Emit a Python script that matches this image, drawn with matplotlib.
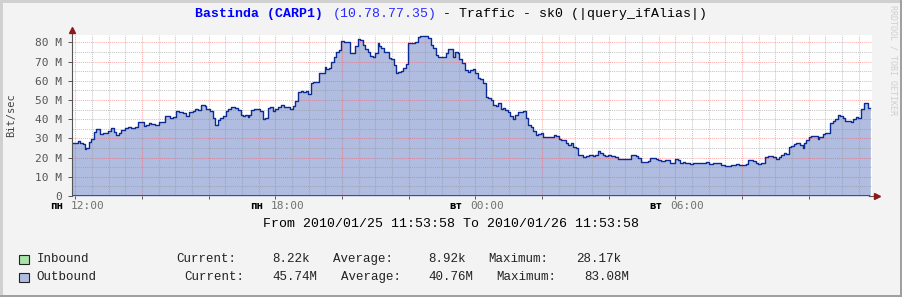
import matplotlib
matplotlib.use("Agg")
import matplotlib.pyplot as plt
import matplotlib.dates as mdates
from matplotlib.ticker import MultipleLocator, FuncFormatter
from matplotlib.patches import Rectangle
from datetime import datetime, timedelta

start = datetime(2010, 1, 25, 11, 53, 58)
end = start + timedelta(hours=24)

# outbound traffic, step starts in minutes after start, values in Mbit/s
out_minutes = [
    0, 11, 14, 19, 23, 26, 31, 35, 40, 43,
    50, 55, 65, 70, 76, 79, 85, 89, 95, 101,
    107, 113, 118, 130, 134, 139, 143, 149, 157, 167,
    176, 181, 187, 193, 200, 206, 211, 217, 221, 227,
    233, 239, 242, 248, 254, 257, 262, 266, 272, 277,
    281, 286, 293, 299, 304, 307, 311, 316, 319, 323,
    328, 332, 338, 343, 347, 352, 356, 361, 365, 371,
    376, 382, 392, 397, 401, 407, 412, 416, 421, 425,
    430, 434, 440, 445, 449, 455, 458, 463, 467, 472,
    476, 481, 485, 490, 494, 500, 504, 509, 514, 518,
    523, 527, 532, 536, 541, 545, 550, 553, 557, 562,
    566, 571, 575, 580, 583, 587, 592, 596, 601, 604,
    617, 622, 626, 641, 646, 650, 655, 659, 668, 673,
    677, 686, 690, 694, 697, 702, 707, 712, 716, 721,
    725, 730, 734, 740, 745, 749, 754, 758, 763, 767,
    772, 775, 779, 784, 788, 793, 797, 802, 812, 817,
    821, 826, 830, 835, 839, 844, 848, 853, 868, 872,
    877, 881, 889, 893, 898, 902, 907, 911, 920, 925,
    931, 937, 941, 946, 950, 955, 959, 965, 971, 977,
    983, 1006, 1010, 1015, 1019, 1025, 1036, 1040, 1051, 1055,
    1061, 1067, 1076, 1085, 1090, 1094, 1099, 1103, 1112, 1118,
    1142, 1147, 1153, 1157, 1169, 1175, 1187, 1196, 1201, 1213,
    1217, 1226, 1231, 1235, 1240, 1247, 1252, 1262, 1268, 1273,
    1277, 1282, 1286, 1291, 1295, 1300, 1304, 1310, 1315, 1318,
    1322, 1327, 1331, 1342, 1345, 1351, 1355, 1364, 1369, 1373,
    1378, 1382, 1387, 1391, 1402, 1406, 1411, 1415, 1421, 1426,
    1433,
]
out_mbit = [
    27.4, 28.8, 27.4, 27.1, 24.5, 24.8, 28.3, 29.5, 33.5, 34.7,
    32.1, 32.6, 34.0, 35.2, 33.5, 31.8, 32.6, 34.4, 35.2, 35.7,
    35.2, 36.1, 38.4, 36.4, 37.0, 37.8, 37.3, 37.0, 38.7, 41.6,
    40.4, 41.0, 44.2, 43.7, 43.0, 41.6, 43.7, 44.4, 45.5, 44.8,
    47.5, 46.9, 45.1, 44.4, 40.4, 37.0, 39.6, 40.8, 41.6, 44.2,
    45.5, 46.2, 45.8, 44.8, 42.2, 41.6, 42.2, 41.0, 42.2, 44.8,
    45.5, 45.1, 44.4, 39.9, 40.4, 45.6, 46.2, 44.2, 45.5, 46.5,
    47.4, 46.5, 45.3, 46.9, 49.5, 54.0, 54.7, 54.2, 54.9, 53.1,
    58.7, 59.2, 59.5, 63.9, 64.2, 67.3, 65.9, 66.5, 69.9, 72.5,
    75.1, 76.0, 80.9, 80.2, 80.4, 74.6, 74.3, 78.1, 81.9, 81.2,
    78.6, 76.4, 75.1, 72.9, 72.5, 74.3, 79.5, 78.1, 76.9, 75.1,
    74.8, 71.7, 71.4, 68.2, 64.2, 64.4, 65.2, 66.5, 68.5, 79.5,
    80.3, 82.9, 83.1, 82.1, 78.6, 76.9, 73.4, 72.2, 72.5, 74.3,
    76.4, 72.5, 75.1, 74.6, 71.1, 69.1, 65.6, 64.7, 65.6, 65.9,
    64.2, 61.6, 60.7, 59.0, 51.7, 50.8, 50.0, 47.4, 46.9, 48.2,
    45.3, 46.0, 44.8, 43.9, 41.6, 39.9, 42.2, 43.6, 44.4, 40.4,
    37.0, 35.7, 34.0, 31.8, 32.3, 32.6, 30.9, 30.5, 31.8, 31.4,
    29.5, 29.2, 27.4, 26.6, 27.8, 25.3, 24.8, 21.3, 20.1, 20.8,
    21.3, 20.8, 21.5, 23.6, 22.6, 21.3, 21.0, 21.3, 20.8, 20.5,
    19.3, 21.2, 21.5, 20.8, 19.6, 17.5, 18.4, 19.6, 19.1, 18.7,
    18.4, 18.7, 17.4, 19.1, 18.7, 17.4, 17.9, 17.0, 16.5, 17.0,
    17.7, 16.5, 17.4, 17.0, 16.1, 15.8, 16.1, 16.5, 16.1, 16.7,
    18.7, 18.4, 17.4, 16.7, 17.0, 20.5, 20.8, 20.1, 19.1, 20.5,
    21.3, 22.2, 21.9, 25.3, 26.0, 27.1, 27.4, 26.6, 24.8, 27.8,
    29.2, 30.5, 31.2, 29.8, 30.5, 32.3, 32.6, 38.2, 39.2, 39.9,
    42.2, 41.6, 40.4, 39.0, 38.7, 39.9, 41.0, 40.4, 45.1, 48.2,
    45.6,
]
data_end_minute = 1437
inbound_avg_mbit = 0.00892

tick_times = [datetime(2010, 1, 25, 12), datetime(2010, 1, 25, 18),
              datetime(2010, 1, 26, 0), datetime(2010, 1, 26, 6)]
tick_days = ["пн", "пн", "вт", "вт"]
tick_clock = ["12:00", "18:00", "00:00", "06:00"]

legend_names = ["Inbound", "Outbound"]
legend_current = ["8.22k", "45.74M"]
legend_average = ["8.92k", "40.76M"]
legend_maximum = ["28.17k", "83.08M"]

W, H = 903, 297
MONO = "Liberation Mono"
SANSMONO = "DejaVu Sans Mono"


def fx(x):
    return x / W


def fy(y):
    return 1 - y / H


fig = plt.figure(figsize=(W / 100, H / 100), dpi=100)
fig.patch.set_facecolor("#f3f3f3")
ax = fig.add_axes([fx(72), fy(196), 800 / W, 161 / H])
ax.set_facecolor("white")

t = [mdates.date2num(start + timedelta(minutes=m)) for m in out_minutes]
t.append(mdates.date2num(start + timedelta(minutes=data_end_minute)))
v = out_mbit + [out_mbit[-1]]

ax.fill_between(t, v, step="post", color="#b0bde0", lw=0, zorder=1)
ax.step(t, v, where="post", color="#0b2a94", lw=1.0, zorder=3)
ax.plot([t[0], t[-1]], [inbound_avg_mbit] * 2, color="#0a6e0a", lw=1.3,
        zorder=4, solid_capstyle="butt")

ax.set_xlim(mdates.date2num(start), mdates.date2num(end))
ax.set_ylim(0, 83.8)
ax.xaxis.set_major_locator(mdates.HourLocator(byhour=range(0, 24, 2)))
ax.xaxis.set_minor_locator(mdates.MinuteLocator(byminute=[0, 30]))
ax.yaxis.set_major_locator(MultipleLocator(10))
ax.yaxis.set_minor_locator(MultipleLocator(5))
ax.yaxis.set_major_formatter(FuncFormatter(lambda y, p: "0" if y == 0 else f"{int(y)} M"))

ax.set_axisbelow(False)
ax.grid(which="major", color="#ff4040", alpha=0.42, ls=(0, (1, 1)), lw=0.75)
ax.grid(which="minor", color="#909090", alpha=0.5, ls=(0, (1, 1)), lw=0.75)

for s in ax.spines.values():
    s.set_visible(False)
ax.tick_params(axis="x", which="major", length=2.5, width=0.7, color="#555555",
               labelbottom=False)
ax.tick_params(axis="x", which="minor", length=0)
ax.tick_params(axis="y", which="major", length=3, width=0.7, color="#555555",
               labelsize=8, labelcolor="#555555", pad=4)
ax.tick_params(axis="y", which="minor", length=0)
for lab in ax.get_yticklabels():
    lab.set_family(SANSMONO)

# axis lines with arrows
ax.plot([0, 0], [0, 1 + 5 / 161], transform=ax.transAxes, clip_on=False,
        color="#555555", lw=0.8, zorder=5)
ax.plot([0], [1 + 5 / 161], marker="^", ms=4.5, color="#8b1a1a",
        transform=ax.transAxes, clip_on=False, zorder=6)
ax.plot([0.996, 1 + 5 / 800], [0, 0], transform=ax.transAxes, clip_on=False,
        color="#555555", lw=0.8, zorder=5)
ax.plot([1 + 5 / 800], [0], marker=">", ms=4.5, color="#8b1a1a",
        transform=ax.transAxes, clip_on=False, zorder=6)

for tt, day, clock in zip(tick_times, tick_days, tick_clock):
    xn = mdates.date2num(tt)
    ax.annotate(day, xy=(xn, 0), xycoords=("data", "axes fraction"),
                xytext=(-9.0, -7.4), textcoords="offset points", ha="right",
                va="center", fontsize=7.8, fontweight="bold", family=SANSMONO,
                color="black")
    ax.annotate(clock, xy=(xn, 0), xycoords=("data", "axes fraction"),
                xytext=(-3.6, -7.0), textcoords="offset points", ha="left",
                va="center", fontsize=8, family=SANSMONO, color="#707070")

# title
fig.text(fx(195), fy(14), "Bastinda (CARP1)", color="#0000ff", weight="bold",
         family=MONO, size=9.5, va="center")
fig.text(fx(333), fy(14), "(10.78.77.35)", color="#2a2aff",
         family=MONO, size=9.5, va="center")
fig.text(fx(443), fy(14), "- Traffic - sk0 (|query_ifAlias|)", color="black",
         family=MONO, size=9.5, va="center")

fig.text(0.5, fy(224), "From 2010/01/25 11:53:58 To 2010/01/26 11:53:58",
         ha="center", va="center", family=MONO, size=9.5, color="black")

fig.text(fx(11), fy(115), "Bit/sec", rotation=90, ha="center", va="center",
         family=SANSMONO, size=7.5, color="#444444")
fig.text(fx(893), fy(60), "RRDTOOL / TOBI OETIKER", rotation=270, ha="center",
         va="center", family=SANSMONO, size=6, color="#cfcfcf")

# legend
rows_y = [259, 277]
box_colors = ["#a8e4a8", "#b0bde0"]
x_pos = [[37, 176, 272, 333, 428, 488, 576],
         [36, 184, 272, 341, 428, 496, 584]]
for i, name in enumerate(legend_names):
    y = rows_y[i]
    fig.add_artist(Rectangle((fx(19), fy(y + 4.5)), 10 / W, 9 / H,
                             transform=fig.transFigure, facecolor=box_colors[i],
                             edgecolor="#222222", lw=0.8))
    parts = [name, "Current:", legend_current[i], "Average:",
             legend_average[i], "Maximum:", legend_maximum[i]]
    for xp, txt in zip(x_pos[i], parts):
        fig.text(fx(xp), fy(y), txt, family=MONO, size=9.0, va="center",
                 color="#222222")

# frame
fig.add_artist(Rectangle((0, 0), 2.5 / W, 1, transform=fig.transFigure,
                         facecolor="#d0d0d0", lw=0))
fig.add_artist(Rectangle((0, 1 - 2.5 / H), 1, 2.5 / H, transform=fig.transFigure,
                         facecolor="#d0d0d0", lw=0))
fig.add_artist(Rectangle((1 - 2.5 / W, 0), 2.5 / W, 1, transform=fig.transFigure,
                         facecolor="#a0a0a0", lw=0))
fig.add_artist(Rectangle((0, 0), 1, 2.5 / H, transform=fig.transFigure,
                         facecolor="#a0a0a0", lw=0))

fig.savefig("out.png", dpi=100, facecolor=fig.get_facecolor())
